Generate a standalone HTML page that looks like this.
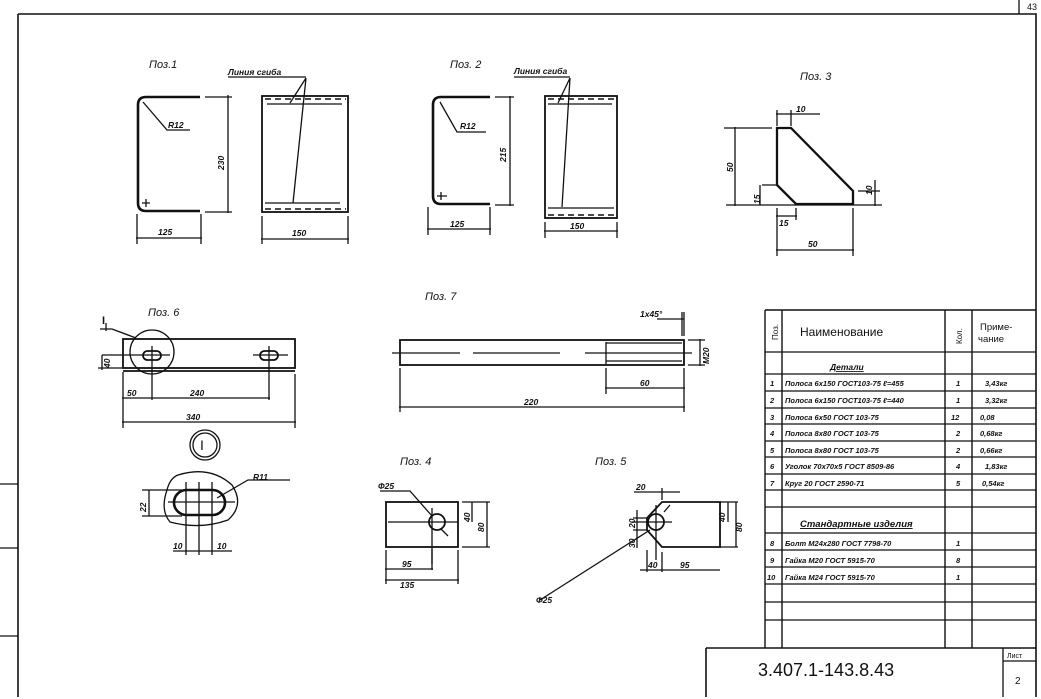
<!DOCTYPE html>
<html><head><meta charset="utf-8"><style>
html,body{margin:0;padding:0;background:#fff}
svg{display:block}
text{font-family:"Liberation Sans",sans-serif;fill:#111}
.t{font-size:11px;font-style:italic}
.s{font-size:8.5px;font-style:italic;font-weight:bold}
</style></head><body>
<svg width="1041" height="699" viewBox="0 0 1041 699" xmlns="http://www.w3.org/2000/svg">
<g stroke="#111" fill="none" stroke-width="1.3">
<path d="M18 14 H1036 V697 M18 14 V697" stroke-width="1.6"/>
<path d="M1019 0 V14"/>
<path d="M0 484 H18 M0 548 H18 M0 636 H18"/>

<path d="M200 97 H146 Q138 97 138 105 V203 Q138 211 146 211 H200" stroke-width="2.6"/>
<path d="M143 102 L167 130 H190"/>
<path d="M142 203 h8 M146 199 v8"/>
<path d="M205 97 H232 M205 212 H232 M228 95 V213 M137 214 V244 M201 214 V244 M136 238 H202"/>
<rect x="262" y="96" width="86" height="116" stroke-width="1.8"/>
<path d="M265 99 H346 M265 209 H346" stroke-dasharray="6 4" stroke-width="1.6"/>
<path d="M267 104 H342 M265 203 H340"/>
<path d="M228 77 H306 M306 78 L290 103 M306 78 L293 203"/>
<path d="M262 216 V244 M348 216 V244 M261 239 H349"/>

<path d="M490 97 H441 Q433 97 433 105 V196 Q433 204 441 204 H490" stroke-width="2.6"/>
<path d="M440 102 L457 132 H486 M437 196 h10 M441 192 v8"/>
<path d="M495 97 H514 M495 205 H514 M510 96 V206 M428 207 V235 M490 207 V235 M427 229 H491"/>
<rect x="545" y="96" width="72" height="122" stroke-width="1.8"/>
<path d="M548 99 H614 M548 215 H614" stroke-dasharray="6 4" stroke-width="1.6"/>
<path d="M548 104 H612 M548 208 H614"/>
<path d="M514 77 H570 M570 78 L558 103 M570 78 L562 207"/>
<path d="M545 222 V238 M617 222 V238 M544 231 H618"/>

<path d="M777 128 H791 L853 191 V204 H796 L777 185 Z" stroke-width="2.3"/>
<path d="M724 128 H772 M735 127 V206 M726 205 H882 M777 110 V126 M791 110 V126 M776 114 H820 M762 185 H777 M760 185 V205 M777 208 V220 M796 208 V220 M776 216 H797 M777 220 V256 M853 208 V256 M776 250 H854 M858 191 H880 M875 180 V206"/>

<rect x="123" y="339" width="172" height="29" stroke-width="1.8"/>
<path d="M123 371 H295" stroke-width="1.8"/>
<rect x="143" y="351" width="18" height="9" rx="4.5" stroke-width="1.8"/>
<rect x="260" y="351" width="18" height="9" rx="4.5" stroke-width="1.8"/>
<path d="M102 355 H170 M152 346 V400 M253 355 H288 M269 346 V400"/>
<circle cx="152" cy="352" r="22"/>
<path d="M100 329 H112 L136 338 M106 323 v8"/>
<path d="M98 368 H123 M102 355 V370 M123 372 V428 M295 374 V428 M122 398 H270 M122 422 H296"/>

<circle cx="205" cy="445" r="15"/><circle cx="205" cy="445" r="12"/>
<path d="M178 475 Q210 465 232 485 Q245 505 228 520 Q200 530 170 522 Q160 510 167 490 Q170 478 178 475 Z"/>
<rect x="174" y="490" width="51" height="25" rx="12.5" stroke-width="2.6"/>
<path d="M168 502 H235 M186 482 V555 M199 482 V555 M212 482 V555 M142 490 H182 M142 516 H182 M149 490 V516 M217 498 L248 480 H290 M173 551 H232"/>

<rect x="400" y="340" width="284" height="25" stroke-width="1.8"/>
<path d="M606 342 V364 M606 343 H682 M606 361 H682" stroke-width="1.3"/>
<path d="M392 353 H460 M473 353 H560 M585 353 H692" />
<path d="M688 340 H705 M688 365 H705 M700 339 V366 M657 319 H684 M682 312 V336 M684 312 V336"/>
<path d="M400 368 V412 M684 368 V412 M606 368 V394 M605 388 H685 M399 407 H685"/>

<rect x="386" y="502" width="72" height="45" stroke-width="1.8"/>
<circle cx="437" cy="522" r="8" stroke-width="1.8"/>
<path d="M380 491 H410 L432 516 M432 508 V564 M388 522 H458 M441 529 L448 536"/>
<path d="M462 502 H490 M462 547 H490 M472 502 V522 M487 502 V547 M386 550 V584 M432 550 V570 M385 569 H433 M385 580 H459 M458 550 V584"/>

<path d="M662 502 H720 V547 H662 L647 530 V518 Z" stroke-width="1.8"/>
<circle cx="656" cy="522" r="8" stroke-width="1.8"/>
<path d="M632 522 H672 M656 505 V560 M540 600 L650 530 M664 512 L670 505"/>
<path d="M633 518 H647 M633 530 H647 M637 510 V548 M662 488 V500 M634 492 H680 M647 550 V572 M662 552 V572 M640 570 H720 M720 502 H738 M720 547 H738 M728 502 V522 M736 502 V547"/>

<path d="M765 310 V648 M782 310 V648 M945 310 V648 M972 310 V648" stroke-width="1.4"/>
<path d="M765 352 H1036 M765 374 H1036 M765 391 H1036 M765 408 H1036 M765 424 H1036 M765 441 H1036 M765 457 H1036 M765 474 H1036 M765 490 H1036 M765 507 H1036 M765 533 H1036 M765 550 H1036 M765 567 H1036 M765 584 H1036 M765 602 H1036 M765 620 H1036"/>
<path d="M765 310 H1036" stroke-width="1.4"/>
<path d="M706 648 H1036 M706 648 V697" stroke-width="1.6"/>
<path d="M1003 648 V697 M1003 661 H1036"/>
</g>

<g>
<text class="t" x="149" y="68">Поз.1</text>
<text class="s" x="228" y="75">Линия сгиба</text>
<text class="s" x="168" y="128">R12</text>
<text class="s" transform="translate(224,170) rotate(-90)">230</text>
<text class="s" x="158" y="235">125</text>
<text class="s" x="292" y="236">150</text>
<text class="t" x="450" y="68">Поз. 2</text>
<text class="s" x="514" y="74">Линия сгиба</text>
<text class="s" x="460" y="129">R12</text>
<text class="s" transform="translate(506,162) rotate(-90)">215</text>
<text class="s" x="450" y="227">125</text>
<text class="s" x="570" y="229">150</text>
<text class="t" x="800" y="80">Поз. 3</text>
<text class="s" x="796" y="112">10</text>
<text class="s" transform="translate(733,172) rotate(-90)">50</text>
<text class="s" transform="translate(760,204) rotate(-90)">15</text>
<text class="s" x="779" y="226">15</text>
<text class="s" transform="translate(872,195) rotate(-90)">10</text>
<text class="s" x="808" y="247">50</text>
<text class="t" x="148" y="316">Поз. 6</text>
<text class="t" x="102" y="324" style="font-weight:bold;font-style:normal">I</text>
<text class="s" transform="translate(110,368) rotate(-90)">40</text>
<text class="s" x="127" y="396">50</text>
<text class="s" x="190" y="396">240</text>
<text class="s" x="186" y="420">340</text>
<text x="200" y="450" style="font-size:14px">I</text>
<text class="s" x="253" y="480">R11</text>
<text class="s" transform="translate(146,512) rotate(-90)">22</text>
<text class="s" x="173" y="549">10</text>
<text class="s" x="217" y="549">10</text>
<text class="t" x="425" y="300">Поз. 7</text>
<text class="s" x="640" y="317">1x45°</text>
<text class="s" transform="translate(709,364) rotate(-90)">M20</text>
<text class="s" x="640" y="386">60</text>
<text class="s" x="524" y="405">220</text>
<text class="t" x="400" y="465">Поз. 4</text>
<text class="s" x="378" y="489">Ф25</text>
<text class="s" transform="translate(470,522) rotate(-90)">40</text>
<text class="s" transform="translate(484,532) rotate(-90)">80</text>
<text class="s" x="402" y="567">95</text>
<text class="s" x="400" y="588">135</text>
<text class="t" x="595" y="465">Поз. 5</text>
<text class="s" x="636" y="490">20</text>
<text class="s" transform="translate(635,528) rotate(-90)">20</text>
<text class="s" transform="translate(635,548) rotate(-90)">30</text>
<text class="s" x="648" y="568">40</text>
<text class="s" x="680" y="568">95</text>
<text class="s" x="536" y="603">Ф25</text>
<text class="s" transform="translate(725,522) rotate(-90)">40</text>
<text class="s" transform="translate(742,532) rotate(-90)">80</text>

<text style="font-size:8px" transform="translate(778,340) rotate(-90)">Поз.</text>
<text style="font-size:12px" x="800" y="336">Наименование</text>
<text style="font-size:8px" transform="translate(962,344) rotate(-90)">Кол.</text>
<text style="font-size:9.5px" x="980" y="330">Приме-</text>
<text style="font-size:9.5px" x="978" y="342">чание</text>
<text class="s" x="830" y="370" text-decoration="underline">Детали</text>
<g style="font-size:7.5px;font-style:italic;font-weight:bold">
<text x="770" y="386">1</text><text x="785" y="386">Полоса 6x150 ГОСТ103-75 ℓ=455</text><text x="956" y="386">1</text><text x="985" y="386">3,43кг</text>
<text x="770" y="403">2</text><text x="785" y="403">Полоса 6x150 ГОСТ103-75 ℓ=440</text><text x="956" y="403">1</text><text x="985" y="403">3,32кг</text>
<text x="770" y="420">3</text><text x="785" y="420">Полоса 6x50 ГОСТ 103-75</text><text x="951" y="420">12</text><text x="980" y="420">0,08</text>
<text x="770" y="436">4</text><text x="785" y="436">Полоса 8x80 ГОСТ 103-75</text><text x="956" y="436">2</text><text x="980" y="436">0,68кг</text>
<text x="770" y="453">5</text><text x="785" y="453">Полоса 8x80 ГОСТ 103-75</text><text x="956" y="453">2</text><text x="980" y="453">0,66кг</text>
<text x="770" y="469">6</text><text x="785" y="469">Уголок 70x70x5 ГОСТ 8509-86</text><text x="956" y="469">4</text><text x="985" y="469">1,83кг</text>
<text x="770" y="486">7</text><text x="785" y="486">Круг 20 ГОСТ 2590-71</text><text x="956" y="486">5</text><text x="982" y="486">0,54кг</text>
<text x="770" y="546">8</text><text x="785" y="546">Болт М24x280 ГОСТ 7798-70</text><text x="956" y="546">1</text>
<text x="770" y="563">9</text><text x="785" y="563">Гайка М20 ГОСТ 5915-70</text><text x="956" y="563">8</text>
<text x="767" y="580">10</text><text x="785" y="580">Гайка М24 ГОСТ 5915-70</text><text x="956" y="580">1</text>
</g>
<text class="s" x="800" y="527" style="font-size:9.5px" text-decoration="underline">Стандартные изделия</text>
<text x="758" y="676" style="font-size:18px">3.407.1-143.8.43</text>
<text x="1007" y="658" style="font-size:7px">Лист</text>
<text x="1015" y="684" style="font-size:10px">2</text>
<text x="1027" y="10" style="font-size:9px">43</text>
</g>
</svg>
</body></html>
